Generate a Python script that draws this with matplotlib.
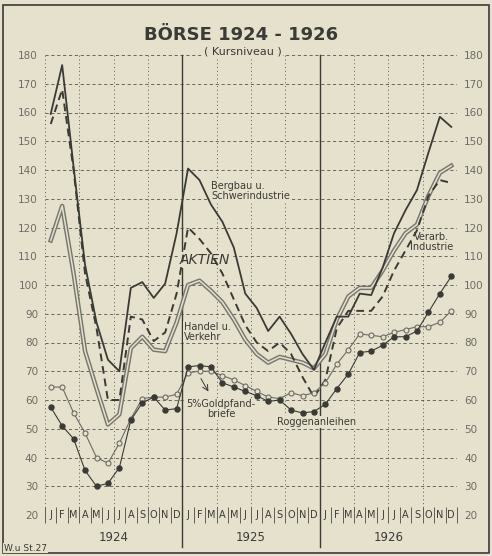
import matplotlib
matplotlib.use('Agg')
import matplotlib.pyplot as plt
import matplotlib.transforms as mtrans
from matplotlib.patches import Rectangle

# Monthly values Jan 1924 - Dec 1926
month_letters = ['J', 'F', 'M', 'A', 'M', 'J', 'J', 'A', 'S', 'O', 'N', 'D'] * 3
years = ['1924', '1925', '1926']

bergbau = [159.5, 176.5, 141, 107, 87, 74, 70, 99, 101, 95.5, 100.5, 118,
           140.5, 136.5, 128, 122, 113, 97, 92, 84, 89, 83, 76, 70.5,
           80, 89, 89, 97, 96.5, 106, 118, 126, 133, 146, 158.5, 155]
verarb = [156, 168, 140, 104, 85, 60, 60, 89, 88, 80.5, 83.5, 97,
          120, 116, 111, 104, 95, 86, 80, 77, 80, 76, 68, 61,
          67, 85, 91, 91, 91, 96, 105, 112, 119, 131, 136.5, 135.5]
handel = [115.5, 127.5, 104, 77, 64, 51.5, 55, 78, 82, 77.5, 77, 87,
          100, 101.5, 98, 94, 88, 81, 76, 73, 75, 74, 73, 71,
          76, 88, 96, 99, 99, 105, 112, 118, 121, 131, 139, 141.5]
goldpfand = [64.5, 64.5, 55.5, 48.5, 40, 38, 45, 53.5, 60.5, 61, 61, 62,
             69.5, 70, 70, 68.5, 67, 65, 63, 61, 60.5, 62.5, 61.5, 62.5,
             66, 72.5, 77.5, 83, 82.5, 82, 83.5, 84.5, 85.5, 85.5, 87, 91]
roggen = [57.5, 51, 46.5, 35.5, 30, 31, 36.5, 53, 59, 61, 56.5, 57,
          71.5, 72, 71.5, 66, 64.5, 63, 61.5, 59.5, 60, 56.5, 55.5, 56,
          58.5, 64, 69, 76.5, 77, 79, 82, 82, 84, 90.5, 97, 103]

x = [i + 0.5 for i in range(36)]

paper = '#e6e1cc'
ink = '#3a3a36'
grey = '#6c6c66'
gridc = '#5e5e58'

fig = plt.figure(figsize=(4.92, 5.56), dpi=100, facecolor=paper)
ax = fig.add_axes([45 / 492, 41 / 556, 412 / 492, 460 / 556])
ax.set_facecolor(paper)
ax.set_xlim(0, 36)
ax.set_ylim(20, 180)
for s in ax.spines.values():
    s.set_visible(False)

# grid
for v in range(30, 181, 10):
    ax.axhline(v, color=gridc, lw=0.65, ls=(0, (3.5, 3)), zorder=1)
for m in range(0, 37, 3):
    if m in (12, 24):
        ax.plot([m, m], [-0.07, 1.0], transform=ax.get_xaxis_transform(),
                color=ink, lw=1.0, clip_on=False, zorder=2)
    else:
        ax.axvline(m, color=gridc, lw=0.65, ls=(0, (1.2, 3)), zorder=1)

# ticks
ax.set_yticks(range(20, 181, 10))
ax.tick_params(axis='y', length=0, pad=5, labelsize=7.5, labelcolor=grey,
               labelleft=True, labelright=True)
ax.set_xticks(range(37))
ax.set_xticklabels([])
ax.tick_params(axis='x', direction='inout', length=11, width=0.7, color=gridc)

for i, lt in enumerate(month_letters):
    ax.text(i + 0.5, 20, lt, ha='center', va='center', fontsize=7, color=ink)
trans = mtrans.blended_transform_factory(ax.transData, ax.transAxes)
for k, yr in enumerate(years):
    ax.text(12 * k + 6, -0.048, yr, transform=trans, ha='center', va='center',
            fontsize=8.5, color=ink)

# series
ax.plot(x, bergbau, color=ink, lw=1.3, zorder=5)
ax.plot(x, verarb, color=ink, lw=1.4, ls=(0, (4, 2.5)), zorder=5)
ax.plot(x, handel, color='#777770', lw=3.2, zorder=4)
ax.plot(x, handel, color=paper, lw=1.1, zorder=4)
ax.plot(x, goldpfand, color=grey, lw=0.8, marker='o', ms=3.6,
        mfc=paper, mec=grey, mew=0.8, zorder=6)
ax.plot(x, roggen, color=ink, lw=0.8, marker='o', ms=3.6,
        mfc=ink, mec=ink, zorder=6)

# labels
bg = dict(facecolor=paper, edgecolor='none', pad=0.5)
ax.text(14.5, 132.8, 'Bergbau u.\nSchwerindustrie', fontsize=7, color=ink,
        ha='left', va='center', linespacing=1.0, bbox=bg, zorder=3)
ax.text(14.0, 108.7, 'AKTIEN', fontsize=10, color=ink, style='italic',
        ha='center', va='center', bbox=bg, zorder=3)
ax.text(12.15, 83.8, 'Handel u.\nVerkehr', fontsize=7, color=ink,
        ha='left', va='center', linespacing=1.0, bbox=bg, zorder=3)
ax.text(33.8, 114.8, 'Verarb.\nIndustrie', fontsize=7, color=ink,
        ha='center', va='center', linespacing=1.0, bbox=bg, zorder=3)
ax.text(15.4, 56.7, '5%Goldpfand-\nbriefe', fontsize=7, color=ink,
        ha='center', va='center', linespacing=1.0, bbox=bg, zorder=3)
ax.text(23.7, 52.3, 'Roggenanleihen', fontsize=7, color=ink,
        ha='center', va='center', bbox=bg, zorder=3)
ax.annotate('', xy=(14.4, 62.1), xytext=(13.5, 68.3),
            arrowprops=dict(arrowstyle='->', color=ink, lw=0.7), zorder=7)

# title
fig.text(0.49, 0.937, 'BÖRSE 1924 - 1926', ha='center', va='center',
         fontsize=13, fontweight='bold', color=ink)
fig.text(0.493, 0.908, '( Kursniveau )', ha='center', va='center',
         fontsize=8, color=ink,
         bbox=dict(facecolor=paper, edgecolor='none', pad=1))
fig.text(0.008, 0.014, 'W.u St.27', ha='left', va='center', fontsize=6.5,
         color=ink, bbox=dict(facecolor=paper, edgecolor='none', pad=0.5))

# frame
fig.patches.append(Rectangle((3 / 492, 3 / 556), 486 / 492, 548 / 556,
                             transform=fig.transFigure, fill=False,
                             edgecolor=ink, lw=1.2, zorder=0))

fig.savefig('out.png', dpi=100, facecolor=paper)
